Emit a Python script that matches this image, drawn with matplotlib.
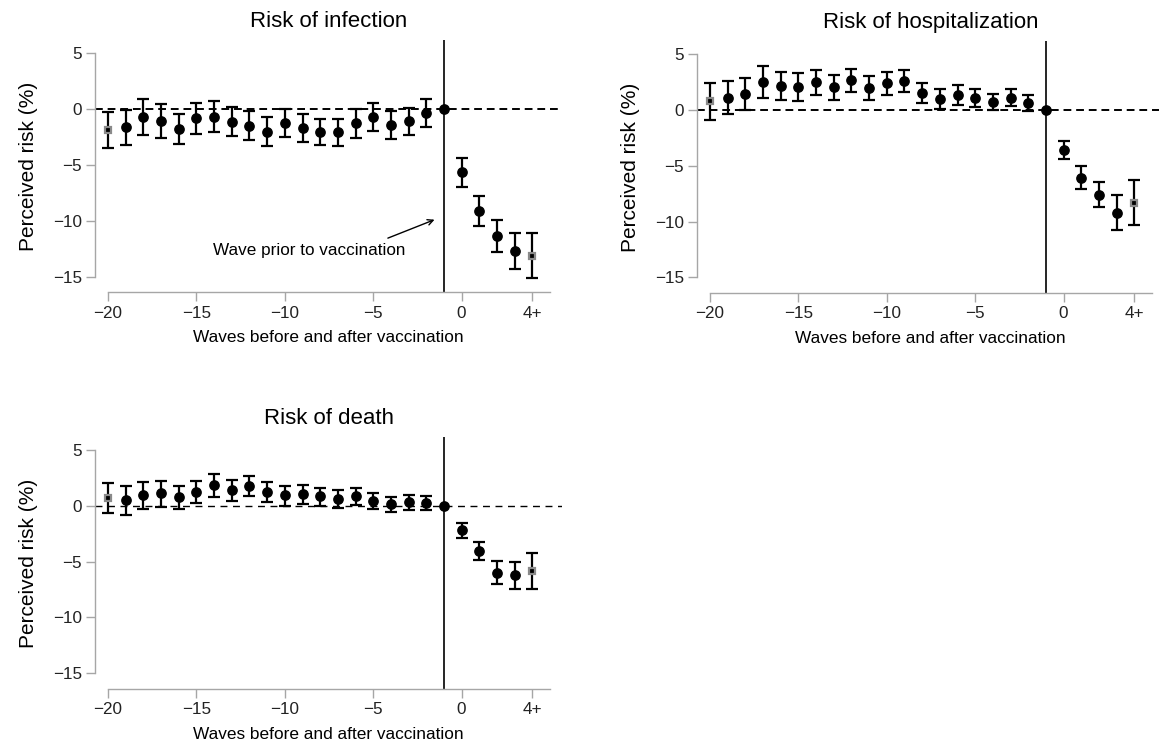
import numpy as np
import matplotlib
matplotlib.use('Agg')
import matplotlib.pyplot as plt
from matplotlib import rcParams

rcParams['font.family'] = 'Liberation Sans'
rcParams['axes.unicode_minus'] = True

# waves relative to vaccination (-1 = wave prior to vaccination, 4 = "4+")
waves = list(range(-20, 5))
xtick_pos = [-20, -15, -10, -5, 0, 4]
xtick_labels = ['\u221220', '\u221215', '\u221210', '\u22125', '0', '4+']
ytick_pos = [5, 0, -5, -10, -15]

infection_est = [-1.9, -1.6, -0.71, -1.1, -1.76, -0.8, -0.68, -1.13, -1.49, -2.02,
                 -1.22, -1.7, -2.08, -2.08, -1.25, -0.71, -1.46, -1.1, -0.36, 0.0,
                 -5.68, -9.1, -11.37, -12.74, -13.15]
infection_hi = [-0.3, -0.06, 0.86, 0.42, -0.42, 0.54, 0.68, 0.18, -0.15, -0.74,
                0.03, -0.45, -0.86, -0.92, 0.03, 0.57, -0.21, 0.06, 0.86, 0.0,
                -4.38, -7.74, -9.94, -11.13, -11.13]
infection_lo = [-3.5, -3.2, -2.35, -2.59, -3.18, -2.2, -2.08, -2.41, -2.74, -3.3,
                -2.53, -2.95, -3.27, -3.33, -2.56, -2.0, -2.65, -2.32, -1.58, 0.0,
                -7.02, -10.48, -12.77, -14.35, -15.15]

hosp_est = [0.75, 1.08, 1.37, 2.48, 2.15, 2.06, 2.45, 2.03, 2.63, 1.97,
            2.36, 2.57, 1.46, 0.96, 1.31, 1.02, 0.66, 1.05, 0.57, 0.0,
            -3.59, -6.1, -7.62, -9.23, -8.37]
hosp_hi = [2.42, 2.57, 2.84, 3.88, 3.35, 3.29, 3.56, 3.14, 3.67, 3.05,
           3.35, 3.56, 2.36, 1.82, 2.18, 1.82, 1.4, 1.82, 1.31, 0.0,
           -2.78, -5.05, -6.51, -7.65, -6.33]
hosp_lo = [-0.93, -0.36, -0.06, 1.08, 0.87, 0.81, 1.28, 0.9, 1.55, 0.9,
           1.34, 1.58, 0.57, 0.09, 0.45, 0.21, -0.06, 0.3, -0.15, 0.0,
           -4.39, -7.11, -8.69, -10.79, -10.34]

death_est = [0.69, 0.48, 0.93, 1.11, 0.75, 1.26, 1.83, 1.44, 1.8, 1.23,
             0.96, 1.05, 0.84, 0.63, 0.87, 0.45, 0.12, 0.3, 0.24, 0.0,
             -2.16, -4.01, -5.99, -6.23, -5.81]
death_hi = [2.04, 1.74, 2.13, 2.25, 1.77, 2.25, 2.81, 2.34, 2.63, 2.13,
            1.8, 1.89, 1.62, 1.44, 1.59, 1.17, 0.78, 0.93, 0.84, 0.0,
            -1.5, -3.2, -4.94, -5.03, -4.25]
death_lo = [-0.66, -0.81, -0.3, -0.12, -0.3, 0.24, 0.78, 0.45, 0.9, 0.33,
            0.0, 0.18, 0.0, -0.21, 0.06, -0.27, -0.54, -0.39, -0.39, 0.0,
            -2.84, -4.82, -7.0, -7.46, -7.43]

spine_gray = '#a6a6a6'


def panel(ax, title, est, lo, hi, dash_lw=1.4, dash=(4, 2.5)):
    x = np.array(waves)
    est = np.array(est)
    lo = np.array(lo)
    hi = np.array(hi)
    ref = x == -1
    ends = (x == -20) | (x == 4)
    mid = ~ref & ~ends

    ax.axhline(0, color='black', lw=dash_lw, ls=(0, dash), zorder=1)
    ax.axvline(-1, color='black', lw=1.2, zorder=1)

    keep = ~ref
    ax.errorbar(x[keep], est[keep], yerr=[est[keep] - lo[keep], hi[keep] - est[keep]],
                fmt='none', ecolor='black', elinewidth=1.6, capsize=4.2, capthick=1.6, zorder=2)
    ax.plot(x[mid | ref], est[mid | ref], 'o', color='black', ms=6.7, zorder=3)
    ax.plot(x[ends], est[ends], 's', mfc='black', mec='#8a8a8a', ms=5, mew=1.6, zorder=3)

    ax.set_xlim(-20.74, 5.69)
    ax.set_ylim(-16.4, 6.17)
    ax.set_xticks(xtick_pos)
    ax.set_xticklabels(xtick_labels)
    ax.set_yticks(ytick_pos)
    ax.set_yticklabels(['5', '0', '\u22125', '\u221210', '\u221215'])
    ax.spines['top'].set_visible(False)
    ax.spines['right'].set_visible(False)
    for s in ['left', 'bottom']:
        ax.spines[s].set_color(spine_gray)
        ax.spines[s].set_linewidth(1.0)
    ax.spines['left'].set_bounds(-15, 5)
    ax.spines['bottom'].set_bounds(-20, 5)
    ax.tick_params(axis='both', colors=spine_gray, labelcolor='#222222',
                   labelsize=12.3, length=6.5, width=1.0, pad=3, direction='out')
    ax.set_ylabel('Perceived risk (%)', fontsize=15, labelpad=11)
    ax.set_xlabel('Waves before and after vaccination', fontsize=12.4, labelpad=7)
    ax.set_title(title, fontsize=16, pad=9)


fig = plt.figure(figsize=(11.59, 7.44), dpi=100)
ax1 = fig.add_axes([0.082, 0.607, 0.403, 0.3394])
ax2 = fig.add_axes([0.6014, 0.606, 0.403, 0.3394])
ax3 = fig.add_axes([0.082, 0.074, 0.403, 0.3387])

panel(ax1, 'Risk of infection', infection_est, infection_lo, infection_hi)
panel(ax2, 'Risk of hospitalization', hosp_est, hosp_lo, hosp_hi)
panel(ax3, 'Risk of death', death_est, death_lo, death_hi, dash_lw=1.0, dash=(5, 4))

ax1.text(-8.6, -12.7, 'Wave prior to vaccination', fontsize=12.3, ha='center', va='center')
ax1.annotate('', xy=(-1.53, -9.9), xytext=(-4.17, -11.55),
             arrowprops=dict(arrowstyle='->', lw=1.0, color='black', shrinkA=0, shrinkB=0))

fig.savefig('out.png', dpi=100, facecolor='white')
